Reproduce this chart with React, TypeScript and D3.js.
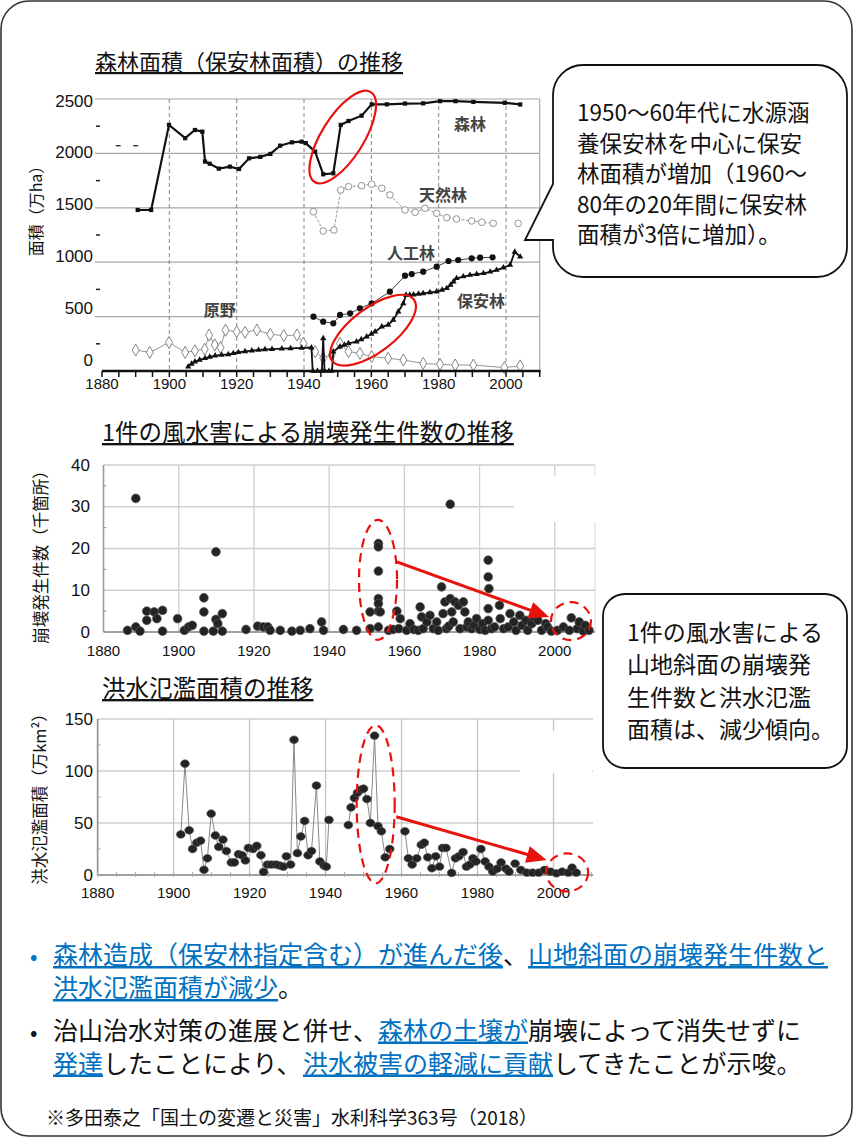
import React from 'react';
import * as d3 from 'd3';

type P = [number, number];

const JP = "'Noto Sans CJK JP', 'Noto Sans', sans-serif";
const NUM = "'Liberation Sans', Arial, sans-serif";
const BLUE = '#0070C0';
const RED = '#e8120c';

// ---------- tick labels ----------
const yearTicks = [1880, 1900, 1920, 1940, 1960, 1980, 2000];
const forestTicks = [0, 500, 1000, 1500, 2000, 2500];
const forestMinor = [250, 750, 1250, 1750, 2250];
const slideTicks = [0, 10, 20, 30, 40];
const slideMinor = [5, 15, 25, 35];
const floodTicks = [0, 50, 100, 150];
const floodMinor = [25, 75, 125];

// ---------- top chart: forest area (万ha) ----------
const forestArea: P[] = [
  [1890.6, 1480], [1894.6, 1480], [1899.9, 2262], [1904.7, 2140], [1907.6, 2215], [1909.8, 2200],
  [1910.6, 1925], [1912, 1905], [1914.7, 1860], [1918, 1878], [1920.7, 1857], [1923.7, 1955],
  [1927, 1968], [1930, 1995], [1932.9, 2071], [1936.4, 2102], [1939.3, 2108], [1940.5, 2095],
  [1943.3, 2016], [1945.7, 1808], [1948.7, 1817], [1950.9, 2262], [1953.2, 2298], [1957.1, 2347],
  [1960.1, 2451], [1964.6, 2451], [1970, 2458], [1975.4, 2460], [1980.4, 2480], [1985, 2480],
  [1990.3, 2473], [1999.6, 2465], [2004.2, 2450],
];
const forestEarly: P[] = [[1884.8, 2071], [1890, 2071]];
const naturalForest: P[] = [
  [1942.8, 1464], [1945.7, 1287], [1948.9, 1296], [1950.9, 1664], [1953.2, 1694], [1957.1, 1703],
  [1960.1, 1716], [1963.1, 1679], [1965.5, 1618], [1970, 1480], [1973, 1459], [1975.9, 1495],
  [1979.4, 1449], [1982.4, 1409], [1985.3, 1397], [1989.8, 1379], [1992.8, 1367], [1996.2, 1357],
];
const naturalForestLast: P[] = [[2003.6, 1357]];
const plantedForest: P[] = [
  [1942.8, 499], [1945.7, 453], [1948.7, 438], [1950.7, 515], [1953.7, 530], [1956.6, 576],
  [1960.1, 622], [1965.5, 729], [1970, 876], [1972, 891], [1975.4, 913], [1979.4, 959],
  [1982.9, 1011], [1985.8, 1020], [1989.8, 1036], [1992.3, 1042], [1996, 1045],
];
const protectionForest: P[] = [
  [1905.6, 40], [1906.6, 66], [1907.6, 86], [1909, 102], [1910.6, 117], [1912, 130], [1913.6, 141],
  [1915.5, 148], [1917.5, 153], [1919, 163], [1920.5, 172], [1922.5, 180], [1924.5, 187],
  [1926.5, 193], [1928.4, 199], [1930.5, 201], [1933.4, 205], [1936, 208], [1939.3, 212],
  [1942.2, 215], [1942.6, -8], [1944, 0], [1945.3, 0], [1945.7, 300], [1946.1, 0], [1947.4, 0],
  [1948.3, 0], [1948.7, 177], [1950.7, 224], [1952, 240], [1953.2, 254], [1955.6, 270],
  [1957, 290], [1958.6, 315], [1960, 340], [1961.1, 361], [1963.1, 407], [1965, 423],
  [1966.5, 469], [1968, 545], [1969.5, 622], [1970.3, 699], [1971.4, 699], [1972.5, 702],
  [1974, 708], [1975.4, 714], [1977.4, 722], [1979.4, 729], [1981, 745], [1982.4, 760],
  [1983.5, 790], [1984.4, 821], [1985.3, 852], [1987.3, 868], [1989.3, 882], [1991.3, 890],
  [1993.3, 898], [1995.3, 912], [1997.2, 928], [1999.2, 950], [2001.2, 974], [2002.6, 1095],
  [2004.2, 1050],
];
const wildland: P[] = [
  [1890, 193], [1894.2, 171], [1899.9, 262], [1904.7, 171], [1907.6, 186], [1910.5, 200],
  [1911.8, 330], [1913.5, 240], [1915.2, 215], [1916.7, 375], [1920, 361], [1922.5, 355],
  [1926, 377], [1930, 337], [1934, 325], [1937.9, 331], [1939.8, 254], [1943.3, 178],
  [1945.7, 117], [1948.2, 147], [1950.7, 254], [1953.2, 178], [1956.6, 162], [1960.1, 132],
  [1965, 117], [1969.5, 101], [1975.4, 70], [1980.4, 61], [1984.9, 55], [1990.3, 55],
  [1999.5, 31], [2004.2, 47],
];
const seriesLabels: { name: string; year: number; value: number }[] = [
  { name: '森林', year: 1989.3, value: 2278 },
  { name: '天然林', year: 1981.3, value: 1630 },
  { name: '人工林', year: 1971.8, value: 1093 },
  { name: '保安林', year: 1992.6, value: 657 },
  { name: '原野', year: 1915, value: 574 },
];

// ---------- middle chart: landslides per disaster (千箇所) ----------
const slideCounts: P[] = [
  [1886.4, 0.4], [1888.6, 32], [1888.6, 1.2], [1889.7, 0.2], [1891.5, 2.8], [1891.5, 5],
  [1893.5, 4.8], [1894.2, 3.2], [1895.7, 5.2], [1895.7, 0.2], [1899.7, 3.2], [1901.5, 0.4],
  [1902.6, 1.2], [1903.6, 1.6], [1906.7, 8.2], [1906.7, 4.8], [1906.7, 0.2], [1909.9, 19.2],
  [1909.9, 3], [1910.4, 2], [1911.6, 4.4], [1909.2, 0.2], [1911.6, 0.2], [1917.9, 0.6],
  [1921, 1.4], [1922.5, 1.2], [1923.7, 1.2], [1924.3, 0.4], [1927, 0.4], [1930.1, 0.2],
  [1932.3, 0.4], [1934.9, 0.8], [1938, 2.4], [1938.5, 0.4], [1943.8, 0.6], [1947.3, 0.4],
  [1950.9, 4.8], [1950.9, 0.8], [1953.1, 21.2], [1953.1, 20.4], [1953.1, 14.6], [1953.1, 8],
  [1953.1, 6.8], [1953.1, 5], [1953.1, 1.2], [1953.6, 4.8], [1955.8, 0.4], [1957, 0.6],
  [1958, 5], [1958.9, 3.2], [1958.5, 0.8], [1960.6, 0.4], [1961.5, 2], [1962.5, 0.6],
  [1963.7, 0.4], [1964.2, 6], [1964.6, 3.6], [1965, 0.8], [1966, 2.4], [1966.8, 4],
  [1967.7, 0.8], [1968.6, 2.4], [1969, 0.4], [1969.9, 10.8], [1970.3, 4.4], [1970.8, 7.2],
  [1971.2, 0.8], [1971.8, 1.4], [1972.2, 30.6], [1972.2, 8], [1972.6, 4.8], [1973, 2.4],
  [1973.5, 7.2], [1974.4, 6.4], [1974.8, 0.8], [1975.7, 7.2], [1976.1, 4.8], [1976.6, 1.2],
  [1977, 2.4], [1977.9, 0.8], [1978.5, 1.6], [1979.2, 3.2], [1980.1, 0.6], [1980.8, 2],
  [1981.5, 0.4], [1982.3, 17.2], [1982.3, 13.2], [1982.5, 10.4], [1982.3, 5.6], [1982.3, 2.8],
  [1983.2, 0.8], [1984, 1.2], [1985.3, 6.4], [1985.5, 3.2], [1986.4, 0.8], [1987.6, 1.2],
  [1988.1, 4.4], [1989.1, 2.4], [1989.7, 0.4], [1990.7, 4], [1991.3, 1.6], [1992.3, 2.8],
  [1992.8, 0.4], [1993.9, 2], [1994.4, 3.6], [1995.5, 2.8], [1996.5, 0.4], [1997.6, 2],
  [1998.1, 1.2], [1999.1, 0.2], [2000.7, 0.4], [2002.3, 1.2], [2003.9, 0.4], [2004.4, 3.4],
  [2006, 0.8], [2006.5, 2.4], [2007.6, 0.2], [2008.1, 1.6], [2009.1, 0.4],
];

// ---------- bottom chart: flooded area (万km²) ----------
const floodPrewar: P[] = [
  [1901.9, 39], [1903, 107], [1904.1, 43], [1905, 25], [1906.1, 31], [1907.1, 33], [1908, 5],
  [1908.9, 16], [1909.9, 59], [1911, 38], [1911.9, 27], [1913, 34], [1913.9, 23], [1915.2, 12],
  [1916, 12], [1917.1, 20], [1918, 19], [1918.9, 14], [1919.7, 26], [1920.9, 25], [1921.9, 28],
  [1923, 19], [1923.7, 3], [1924.7, 10], [1925.8, 10], [1927, 10], [1928, 9], [1928.9, 8],
  [1929.7, 18], [1930.8, 10], [1931.7, 130], [1932.6, 21], [1933.5, 37], [1934.5, 52],
  [1935.4, 19], [1936.3, 23], [1937.6, 86], [1938.5, 13], [1939.6, 9], [1940.2, 8], [1940.9, 53],
];
const floodPostwar: P[] = [
  [1946, 48], [1946.7, 65], [1947.6, 74], [1948.4, 79], [1949.3, 82], [1950, 83], [1950.9, 73],
  [1951.8, 50], [1952.9, 134], [1953.8, 47], [1954.7, 42], [1955.7, 17], [1956.9, 25],
];
const floodRecent: P[] = [
  [1960.9, 42], [1961.8, 16], [1962.8, 10], [1964, 16], [1965.2, 29], [1966, 31], [1966.9, 17],
  [1968, 6.5], [1969, 18], [1970, 8], [1970.8, 26], [1971.7, 26], [1973.2, 2], [1974.2, 16],
  [1975.1, 18], [1976.2, 22], [1977.1, 8], [1978, 10], [1978.8, 16], [1979.6, 13], [1980.9, 25],
  [1982, 13], [1983, 8], [1984, 3.3], [1985.2, 6], [1986.2, 12], [1987.5, 6], [1988.3, 3.2],
  [1989.9, 11], [1991.4, 4.8], [1993, 2.2], [1994.5, 2.2], [1996.1, 2.2], [1997.6, 4.8],
  [1999.2, 3.2], [2000.8, 1.6], [2002.3, 3.2], [2003.9, 2.2], [2004.9, 7], [2006, 2.2],
];

// ---------- scales ----------
const xTop = d3.scaleLinear().domain([1880, 2010]).range([102, 539.7]);
const yTop = d3.scaleLinear().domain([0, 2500]).range([371, 99]);
const yTopLabel = d3.scaleLinear().domain([0, 2500]).range([360, 101]);
const xMid = d3.scaleLinear().domain([1880, 2010.7]).range([103.5, 595]);
const yMid = d3.scaleLinear().domain([0, 40]).range([632, 465]);
const xBot = d3.scaleLinear().domain([1880, 2010.4]).range([97.6, 593]);
const yBot = d3.scaleLinear().domain([0, 150]).range([875, 719]);

const fiveYears = d3.range(1880, 2011, 5);

function sym(type: d3.SymbolType, size: number): string {
  return d3.symbol().type(type).size(size)() as string;
}

function Arrow({ x1, y1, x2, y2 }: { x1: number; y1: number; x2: number; y2: number }) {
  const a = Math.atan2(y2 - y1, x2 - x1);
  const hl = 20, hw = 8.5;
  const bx = x2 - hl * Math.cos(a), by = y2 - hl * Math.sin(a);
  const px = -Math.sin(a) * hw, py = Math.cos(a) * hw;
  return (
    <g>
      <line x1={x1} y1={y1} x2={bx + 2 * Math.cos(a)} y2={by + 2 * Math.sin(a)} stroke={RED} strokeWidth={3} />
      <polygon points={`${x2},${y2} ${bx + px},${by + py} ${bx - px},${by - py}`} fill={RED} />
    </g>
  );
}

function TopChart() {
  const line = d3.line<P>().x(d => xTop(d[0])).y(d => yTop(d[1]));
  const x0 = 95, x1 = xTop(2010);
  const tri = sym(d3.symbolTriangle, 17);
  const dia = sym(d3.symbolDiamond, 42);
  const sq = sym(d3.symbolSquare, 18);
  return (
    <g>
      <text x={95} y={70} fontFamily={JP} fontSize={22} textDecoration="underline" fill="#111">森林面積（保安林面積）の推移</text>
      {forestTicks.filter(v => v > 0).map(v => (
        <line key={v} x1={x0} x2={x1} y1={yTop(v)} y2={yTop(v)} stroke="#a8a8a8" strokeWidth={1.2} />
      ))}
      {forestMinor.map(v => (
        <line key={v} x1={96} x2={100} y1={yTop(v)} y2={yTop(v)} stroke="#222" strokeWidth={1.5} />
      ))}
      {yearTicks.slice(1).map(y => (
        <line key={y} x1={xTop(y)} x2={xTop(y)} y1={yTop(2500)} y2={yTop(0)} stroke="#777" strokeWidth={0.9} strokeDasharray="4,3" />
      ))}
      <line x1={x1} x2={x1} y1={yTop(2500)} y2={yTop(0)} stroke="#aaa" strokeWidth={1.2} />
      <path d={line(wildland) || ''} fill="none" stroke="#8a8a8a" strokeWidth={0.9} />
      {wildland.map((d, i) => (
        <path key={i} d={dia} transform={`translate(${xTop(d[0])},${yTop(d[1])})`} fill="#fff" stroke="#777" strokeWidth={0.9} />
      ))}
      <path d={line(naturalForest) || ''} fill="none" stroke="#8a8a8a" strokeWidth={0.9} strokeDasharray="3,1.5" />
      {naturalForest.concat(naturalForestLast).map((d, i) => (
        <circle key={i} cx={xTop(d[0])} cy={yTop(d[1])} r={3.3} fill="#fff" stroke="#888" strokeWidth={0.9} />
      ))}
      <path d={line(plantedForest) || ''} fill="none" stroke="#444" strokeWidth={1} />
      {plantedForest.map((d, i) => (
        <circle key={i} cx={xTop(d[0])} cy={yTop(d[1])} r={3.1} fill="#111" />
      ))}
      <path d={line(protectionForest) || ''} fill="none" stroke="#111" strokeWidth={1.8} />
      {protectionForest.map((d, i) => (
        <path key={i} d={tri} transform={`translate(${xTop(d[0])},${yTop(Math.max(d[1], 0))})`} fill="#111" />
      ))}
      <path d={line(forestArea) || ''} fill="none" stroke="#111" strokeWidth={2.2} />
      {forestArea.map((d, i) => (
        <path key={i} d={sq} transform={`translate(${xTop(d[0])},${yTop(d[1])})`} fill="#111" />
      ))}
      {forestEarly.map((d, i) => (
        <line key={i} x1={xTop(d[0]) - 2.5} x2={xTop(d[0]) + 2.5} y1={yTop(d[1])} y2={yTop(d[1])} stroke="#333" strokeWidth={1.4} />
      ))}
      {seriesLabels.map(l => (
        <text key={l.name} x={xTop(l.year)} y={yTop(l.value)} textAnchor="middle" dominantBaseline="central" fontFamily={JP} fontSize={16} fill="#444" fontWeight={600}>{l.name}</text>
      ))}
      <line x1={xTop(1880)} x2={x1 + 1} y1={yTop(0)} y2={yTop(0)} stroke="#111" strokeWidth={2.5} />
      {fiveYears.map(y => (
        <line key={y} x1={xTop(y)} x2={xTop(y)} y1={yTop(0)} y2={yTop(0) + 6} stroke="#111" strokeWidth={1.5} />
      ))}
      {yearTicks.map(y => (
        <text key={y} x={xTop(y)} y={389} textAnchor="middle" fontFamily={NUM} fontSize={15} fill="#111">{y}</text>
      ))}
      {forestTicks.map(v => (
        <text key={v} x={93} y={yTopLabel(v)} textAnchor="end" dominantBaseline="central" fontFamily={NUM} fontSize={17} fill="#111">{v}</text>
      ))}
      <text transform="translate(35,207) rotate(-90)" textAnchor="middle" dominantBaseline="central" fontFamily={JP} fontSize={16} fill="#111">面積（万ha）</text>
      <ellipse cx={xTop(1951.5)} cy={yTop(2150)} rx={53} ry={21} transform={`rotate(-58,${xTop(1951.5)},${yTop(2150)})`} fill="none" stroke={RED} strokeWidth={2.2} />
      <ellipse cx={xTop(1960.5)} cy={yTop(375)} rx={51} ry={22} transform={`rotate(-37,${xTop(1960.5)},${yTop(375)})`} fill="none" stroke={RED} strokeWidth={2.2} />
    </g>
  );
}

function MiddleChart() {
  const xl = xMid(1880), xr = xMid(2010.7);
  return (
    <g>
      <text x={102} y={441} fontFamily={JP} fontSize={23.5} textDecoration="underline" fill="#111">1件の風水害による崩壊発生件数の推移</text>
      {slideTicks.filter(v => v > 0).map(v => (
        <line key={v} x1={xl} x2={xr} y1={yMid(v)} y2={yMid(v)} stroke="#cfcfcf" strokeWidth={1.3} />
      ))}
      {yearTicks.slice(1).map(y => (
        <line key={y} x1={xMid(y)} x2={xMid(y)} y1={yMid(40)} y2={yMid(0)} stroke="#cfcfcf" strokeWidth={1.3} />
      ))}
      <line x1={xr} x2={xr} y1={yMid(40)} y2={yMid(0)} stroke="#e0e0e0" strokeWidth={1.2} />
      <rect x={514} y={476} width={82} height={46} fill="#fff" />
      <line x1={xl} x2={xl} y1={yMid(40)} y2={yMid(0)} stroke="#9a9a9a" strokeWidth={1.6} />
      <line x1={xl} x2={xr} y1={yMid(0)} y2={yMid(0)} stroke="#a0a0a0" strokeWidth={2} />
      {slideMinor.map(v => (
        <line key={v} x1={xl} x2={xl + 3} y1={yMid(v)} y2={yMid(v)} stroke="#999" strokeWidth={1} />
      ))}
      {slideCounts.map((d, i) => (
        <circle key={i} cx={xMid(d[0])} cy={yMid(d[1])} r={4.4} fill="#232323" stroke="#5a5a5a" strokeWidth={0.7} />
      ))}
      {yearTicks.map(y => (
        <text key={y} x={xMid(y)} y={655.5} textAnchor="middle" fontFamily={NUM} fontSize={15} fill="#111">{y}</text>
      ))}
      {slideTicks.map(v => (
        <text key={v} x={90} y={yMid(v)} textAnchor="end" dominantBaseline="central" fontFamily={NUM} fontSize={17} fill="#111">{v}</text>
      ))}
      <text transform="translate(40,553) rotate(-90)" textAnchor="middle" dominantBaseline="central" fontFamily={JP} fontSize={16.5} fill="#111">崩壊発生件数（千箇所）</text>
      <ellipse cx={xMid(1953)} cy={yMid(12.5)} rx={19} ry={60} fill="none" stroke={RED} strokeWidth={2.2} strokeDasharray="9,6" />
      <ellipse cx={xMid(2004.3)} cy={yMid(2.6)} rx={20} ry={19} fill="none" stroke={RED} strokeWidth={2.2} strokeDasharray="9,6" />
      <Arrow x1={xMid(1958)} y1={yMid(16.8)} x2={xMid(1998.5)} y2={yMid(3.6)} />
    </g>
  );
}

function BottomChart() {
  const xl = xBot(1880), xr = xBot(2010.4);
  const line = d3.line<P>().x(d => xBot(d[0])).y(d => yBot(d[1]));
  const all = floodPrewar.concat(floodPostwar, floodRecent);
  return (
    <g>
      <text x={102} y={697} fontFamily={JP} fontSize={23.5} textDecoration="underline" fill="#111">洪水氾濫面積の推移</text>
      {floodTicks.filter(v => v > 0).map(v => (
        <line key={v} x1={xl} x2={xr} y1={yBot(v)} y2={yBot(v)} stroke="#cfcfcf" strokeWidth={1.3} />
      ))}
      {yearTicks.slice(1).map(y => (
        <line key={y} x1={xBot(y)} x2={xBot(y)} y1={yBot(150)} y2={yBot(0)} stroke="#c4c4c4" strokeWidth={1.3} />
      ))}
      <rect x={520} y={731} width={72} height={42} fill="#fff" />
      <line x1={xl} x2={xl} y1={yBot(150)} y2={yBot(0)} stroke="#8f8f8f" strokeWidth={1.6} />
      <line x1={xl} x2={xr} y1={yBot(0)} y2={yBot(0)} stroke="#a0a0a0" strokeWidth={2} />
      {floodMinor.map(v => (
        <line key={v} x1={xl} x2={xl + 3} y1={yBot(v)} y2={yBot(v)} stroke="#999" strokeWidth={1} />
      ))}
      {fiveYears.map(y => (
        <line key={y} x1={xBot(y)} x2={xBot(y)} y1={yBot(0) - 3} y2={yBot(0) + 2} stroke="#aaa" strokeWidth={1} />
      ))}
      {[floodPrewar, floodPostwar, floodRecent].map((s, i) => (
        <path key={i} d={line(s) || ''} fill="none" stroke="#7a7a7a" strokeWidth={0.9} />
      ))}
      {all.map((d, i) => (
        <ellipse key={i} cx={xBot(d[0])} cy={yBot(d[1])} rx={4.4} ry={3.9} fill="#232323" stroke="#555" strokeWidth={0.6} />
      ))}
      {yearTicks.map(y => (
        <text key={y} x={xBot(y)} y={897.5} textAnchor="middle" fontFamily={NUM} fontSize={15} fill="#111">{y}</text>
      ))}
      {floodTicks.map(v => (
        <text key={v} x={93} y={yBot(v)} textAnchor="end" dominantBaseline="central" fontFamily={NUM} fontSize={17} fill="#111">{v}</text>
      ))}
      <text transform="translate(39,795) rotate(-90)" textAnchor="middle" dominantBaseline="central" fontFamily={JP} fontSize={16.5} fill="#111">洪水氾濫面積（万km²）</text>
      <ellipse cx={xBot(1953.2)} cy={yBot(68)} rx={19} ry={79} fill="none" stroke={RED} strokeWidth={2.2} strokeDasharray="9,6" />
      <ellipse cx={xBot(2003.6)} cy={yBot(2.5)} rx={21} ry={19} fill="none" stroke={RED} strokeWidth={2.2} strokeDasharray="9,6" />
      <Arrow x1={xBot(1958.6)} y1={yBot(56)} x2={xBot(1998.2)} y2={yBot(14.4)} />
    </g>
  );
}

const callout1Lines = ['1950～60年代に水源涵', '養保安林を中心に保安', '林面積が増加（1960～', '80年の20年間に保安林', '面積が3倍に増加）。'];
const callout2Lines = ['1件の風水害による', '山地斜面の崩壊発', '生件数と洪水氾濫', '面積は、減少傾向。'];

// bullet text segments: [text, highlighted]
type Seg = [string, boolean];
const noteLines: { y: number; segs: Seg[] }[] = [
  { y: 964, segs: [['森林造成（保安林指定含む）が進んだ後', true], ['、', false], ['山地斜面の崩壊発生件数と', true]] },
  { y: 997, segs: [['洪水氾濫面積が減少', true], ['。', false]] },
  { y: 1039.5, segs: [['治山治水対策の進展と併せ、', false], ['森林の土壌が', true], ['崩壊によって消失せずに', false]] },
  { y: 1072.5, segs: [['発達', true], ['したことにより、', false], ['洪水被害の軽減に貢献', true], ['してきたことが示唆。', false]] },
];

function Callouts() {
  const L = 553, T = 65, R = 847, B = 277, r = 30;
  const p = d3.path();
  p.moveTo(L + r, T);
  p.lineTo(R - r, T);
  p.arcTo(R, T, R, T + r, r);
  p.lineTo(R, B - r);
  p.arcTo(R, B, R - r, B, r);
  p.lineTo(L + r, B);
  p.arcTo(L, B, L, B - r, r);
  p.lineTo(L, 240);
  p.lineTo(525, 240);
  p.lineTo(L, 184);
  p.lineTo(L, T + r);
  p.arcTo(L, T, L + r, T, r);
  p.closePath();
  return (
    <g>
      <path d={p.toString()} fill="#fff" stroke="#111" strokeWidth={1.8} />
      {callout1Lines.map((t, i) => (
        <text key={i} x={577} y={121 + i * 30.5} fontFamily={JP} fontSize={22.5} fill="#111">{t}</text>
      ))}
      <rect x={603} y={594} width={244} height={174} rx={22} fill="#fff" stroke="#111" strokeWidth={1.8} />
      {callout2Lines.map((t, i) => (
        <text key={i} x={627} y={641 + i * 32.3} fontFamily={JP} fontSize={23} fill="#111">{t}</text>
      ))}
    </g>
  );
}

function Notes() {
  const fs = 25, x0 = 53;
  return (
    <g fontFamily={JP} fontSize={fs} fill="#111">
      <text x={30} y={964} fill={BLUE} fontSize={22}>•</text>
      <text x={30} y={1039.5} fontSize={22}>•</text>
      {noteLines.map((ln, li) => {
        let n = 0;
        return (
          <g key={li}>
            {ln.segs.map(([t, hi], si) => {
              const x = x0 + n * fs;
              n += Array.from(t).length;
              return (
                <text key={si} x={x} y={ln.y} fill={hi ? BLUE : '#111'} textDecoration={hi ? 'underline' : undefined}>{t}</text>
              );
            })}
          </g>
        );
      })}
      <text x={46} y={1125} fontSize={19}>※多田泰之「国土の変遷と災害」水利科学363号（2018）</text>
    </g>
  );
}

export default function App() {
  return (
    <svg width={853} height={1138} viewBox="0 0 853 1138" style={{ position: 'absolute', left: 0, top: 0, background: '#fff' }}>
      <rect x={0} y={0} width={853} height={1138} fill="#fff" />
      <rect x={1} y={1} width={851} height={1135} rx={28} fill="none" stroke="#333" strokeWidth={1.6} />
      <TopChart />
      <MiddleChart />
      <BottomChart />
      <Callouts />
      <Notes />
    </svg>
  );
}
